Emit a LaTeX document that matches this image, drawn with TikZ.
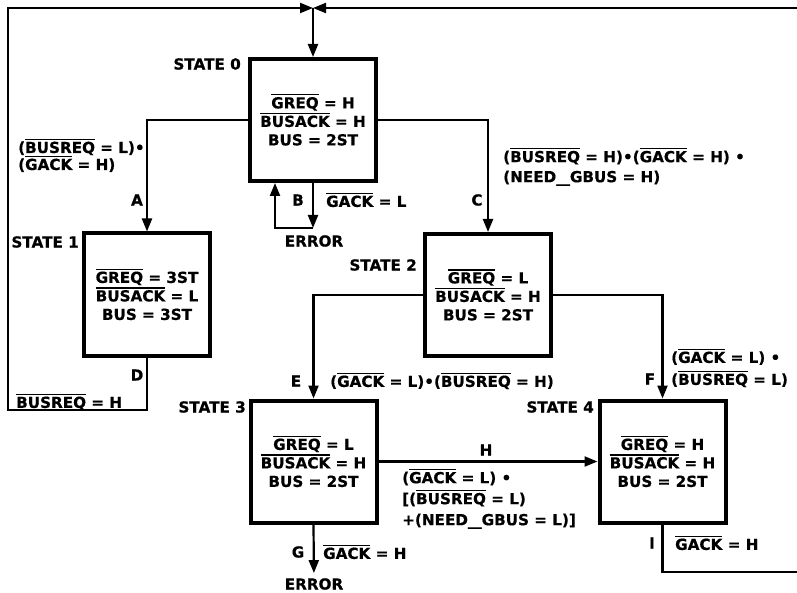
\documentclass[tikz,border=0pt]{standalone}
\usepackage{fontspec}
\setmainfont{DejaVu Sans}[BoldFeatures={FakeBold=0.6}]
\usepackage{graphicx}
\usetikzlibrary{arrows.meta}
\newcommand\ob[1]{{\setbox0\hbox{#1}\rlap{\raisebox{\dimexpr\ht0+1.6pt\relax}{\rule{\wd0}{1.1pt}}}\box0}}
\newcommand\usc{\scalebox{1.8}[1]{\_}}
\begin{document}
\begin{tikzpicture}[x=1pt,y=-1pt,
  every node/.style={font=\bfseries\fontsize{15.2}{18.5}\selectfont, inner sep=1pt},
  statebox/.style={draw, line width=4pt, minimum width=126pt, minimum height=122pt, align=center, inner sep=0pt},
  conn/.style={line width=2.2pt},
  arr/.style={conn, -{Triangle[length=13pt,width=10pt]}},
  lbl/.style={anchor=west, align=left}]
\useasboundingbox (0,0) rectangle (797,593);

% states
\node[statebox] (s0) at (313,120) {\ob{GREQ} = H\\\ob{BUSACK} = H\\BUS = 2ST};
\node[statebox] (s1) at (147,294.5) {\ob{GREQ} = 3ST\\\ob{BUSACK} = L\\BUS = 3ST};
\node[statebox] (s2) at (488,295) {\ob{GREQ} = L\\\ob{BUSACK} = H\\BUS = 2ST};
\node[statebox] (s3) at (313.5,461.5) {\ob{GREQ} = L\\\ob{BUSACK} = H\\BUS = 2ST};
\node[statebox] (s4) at (662.5,461.5) {\ob{GREQ} = H\\\ob{BUSACK} = H\\BUS = 2ST};

% state names
\node[anchor=east] (st0) at (242,64) {STATE 0};
\node[anchor=east] (st1) at (80,242) {STATE 1};
\node[anchor=east] (st2) at (418,265) {STATE 2};
\node[anchor=east] (st3) at (247,407) {STATE 3};
\node[anchor=east] (st4) at (595,407) {STATE 4};

% coordinates
\coordinate (jn) at (313,8);
\coordinate (tl) at (8,8);
\coordinate (tr) at (797,8);
\coordinate (dl) at (8,410);
\coordinate (bc) at (313,228);
\coordinate (bl) at (275,228);
\coordinate (rb) at (797,572);

% error nodes
\node (err1) at (314,241) {ERROR};
\node (err2) at (314,584) {ERROR};

% connectors
\draw[arr, line join=miter] (s1.south) |- (dl) -- (tl) -- (jn);
\draw[arr] (tr) -- (jn);
\draw[arr] (jn) -- (s0.north);
\draw[arr] (s0.west) -| (s1.north);
\draw[arr] (s0.east) -| (s2.north);
\draw[arr] (s0.south) -- (bc);
\draw[arr] (bc) -- (bl) -- (bl |- s0.south);
\draw[arr] (s2.west) -| (s3.north);
\draw[arr] (s2.east) -| (s4.north);
\draw[arr] (s3.east) -- (s4.west);
\draw[arr, shorten >=4pt] (s3.south) -- (err2);
\draw[conn] (s4.south) |- (rb);

% transition labels
\node (la) at (137,200) {A};
\node[lbl] (ca) at (17,155.5) {(\ob{BUSREQ} = L)\textbullet\\[-1.5pt](\ob{GACK} = H)};
\node (lb) at (298,200) {B};
\node[lbl] (cb) at (325,200) {\ob{GACK} = L};
\node (lc) at (477,200) {C};
\node[lbl] (cc) at (502,167) {(\ob{BUSREQ} = H)\textbullet(\ob{GACK} = H) \textbullet\\[1.5pt](NEED\usc GBUS = H)};
\node (ld) at (137,375) {D};
\node[lbl] (cd) at (15,402) {\ob{BUSREQ} = H};
\node (le) at (296,381) {E};
\node[lbl] (ce) at (329,381) {(\ob{GACK} = L)\textbullet(\ob{BUSREQ} = H)};
\node (lf) at (650,379) {F};
\node[lbl] (cf) at (670,368) {(\ob{GACK} = L) \textbullet\\[3.5pt](\ob{BUSREQ} = L)};
\node (lh) at (486,450) {H};
\node[lbl] (ch) at (401,499) {(\ob{GACK} = L) \textbullet\\[2.5pt][(\ob{BUSREQ} = L)\\[2.5pt]+(NEED\usc GBUS = L)]};
\node (lg) at (298,552) {G};
\node[lbl] (cg) at (322,552) {\ob{GACK} = H};
\node (li) at (652,543) {I};
\node[lbl] (ci) at (674,543) {\ob{GACK} = H};
\end{tikzpicture}
\end{document}
